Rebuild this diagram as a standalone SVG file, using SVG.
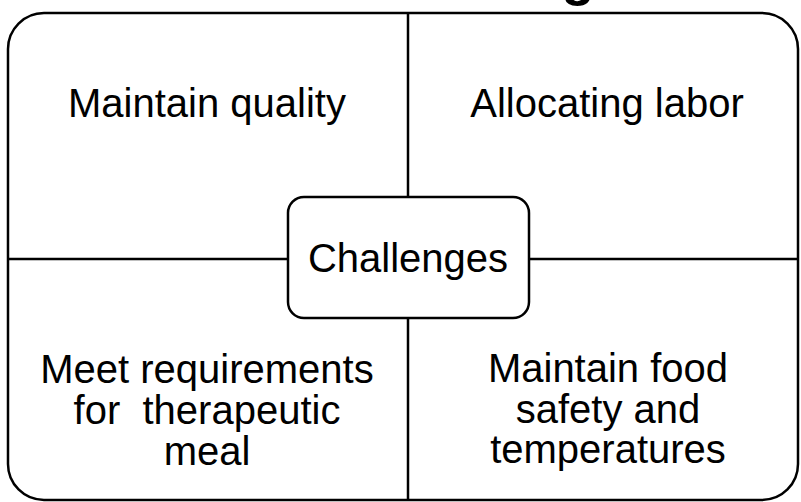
<svg xmlns="http://www.w3.org/2000/svg" width="801" height="502" viewBox="0 0 801 502">
  <style>
    .frame { fill: #ffffff; stroke: #000000; stroke-width: 2.5; }
    .line { stroke: #000000; stroke-width: 2.5; fill: none; }
    .label { font-family: "Liberation Sans", Arial, sans-serif; font-size: 40px; fill: #000000; text-anchor: middle; }
    .title { font-family: "Liberation Sans", Arial, sans-serif; font-size: 54px; font-weight: bold; fill: #000000; text-anchor: middle; }
  </style>
  <rect width="801" height="502" fill="#ffffff"/>

  <!-- heading running off the top edge -->
  <text class="title" x="578" y="-5">g</text>

  <!-- outer frame -->
  <rect id="frame" class="frame" x="8" y="13" width="790" height="487" rx="36" ry="36"/>

  <!-- dividing lines -->
  <g id="connectors">
    <line class="line" x1="408" y1="13" x2="408" y2="197"/>
    <line class="line" x1="408" y1="318" x2="408" y2="500"/>
    <line class="line" x1="8" y1="259" x2="288" y2="259"/>
    <line class="line" x1="529" y1="259" x2="798" y2="259"/>
  </g>

  <g id="quality">
    <text class="label" x="207" y="117">Maintain quality</text>
  </g>
  <g id="labor">
    <text class="label" x="607" y="117">Allocating labor</text>
  </g>
  <g id="therapeutic">
    <text class="label" x="207" y="383">Meet requirements</text>
    <text class="label" x="207" y="424" xml:space="preserve">for  therapeutic</text>
    <text class="label" x="207" y="465">meal</text>
  </g>
  <g id="safety">
    <text class="label" x="608" y="382">Maintain food</text>
    <text class="label" x="608" y="423">safety and</text>
    <text class="label" x="608" y="463">temperatures</text>
  </g>

  <g id="challenges">
    <rect class="frame" x="288" y="197" width="241" height="121" rx="16" ry="16"/>
    <text class="label" x="408" y="272">Challenges</text>
  </g>
</svg>
